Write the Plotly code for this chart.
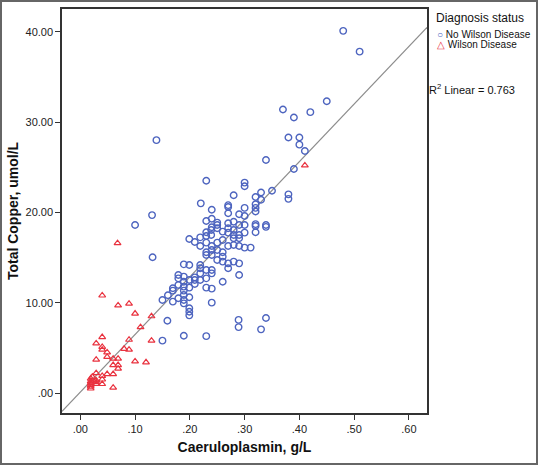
import plotly.graph_objects as go

# ---- data ----
no_wilson_x = [
    0.480, 0.510, 0.450, 0.420, 0.370, 0.390, 0.380, 0.400, 0.400, 0.410,
    0.139, 0.339, 0.390, 0.230, 0.300, 0.300, 0.350, 0.330, 0.380, 0.380,
    0.280, 0.320, 0.330, 0.220, 0.320, 0.270, 0.270, 0.300, 0.320, 0.240,
    0.320, 0.270, 0.290, 0.300, 0.240, 0.131, 0.100, 0.320, 0.320, 0.320,
    0.339, 0.339, 0.311, 0.300,
    0.230, 0.250, 0.250, 0.270, 0.280, 0.290, 0.300, 0.250, 0.270, 0.240,
    0.260, 0.270, 0.280, 0.280, 0.290, 0.280, 0.300, 0.290, 0.199, 0.209,
    0.219, 0.230, 0.239, 0.230, 0.239, 0.219, 0.230, 0.240, 0.250, 0.260,
    0.270, 0.280, 0.290, 0.230, 0.230, 0.240, 0.240, 0.250, 0.250, 0.260,
    0.260, 0.270, 0.270, 0.280, 0.290, 0.260, 0.132, 0.189, 0.199, 0.219,
    0.219, 0.230, 0.240, 0.240, 0.219, 0.179, 0.179, 0.189, 0.209, 0.209,
    0.199, 0.219, 0.230, 0.209, 0.189, 0.260, 0.290, 0.169, 0.169, 0.179,
    0.189, 0.189, 0.189, 0.199, 0.230, 0.240, 0.150, 0.160, 0.169, 0.179,
    0.189, 0.189, 0.199, 0.240, 0.199,
    0.199, 0.199, 0.159, 0.289, 0.339, 0.330, 0.289, 0.230, 0.189, 0.150,
]
no_wilson_y = [
    40.1, 37.8, 32.3, 31.1, 31.4, 30.5, 28.3, 28.3, 27.5, 26.8,
    28.0, 25.8, 24.8, 23.5, 23.3, 22.9, 22.4, 22.2, 22.0, 21.5,
    21.9, 21.7, 21.4, 21.0, 20.9, 20.8, 20.6, 20.5, 20.5, 20.3,
    20.1, 19.9, 19.8, 19.6, 19.3, 19.7, 18.6, 18.7, 18.5, 17.8,
    18.6, 18.4, 16.1, 16.1,
    19.05, 18.87, 18.6, 18.8, 18.97, 18.6, 18.6, 18.24, 18.24, 18.35,
    17.87, 17.76, 18.05, 17.5, 17.5, 17.13, 17.76, 17.13, 17.06, 16.72,
    17.24, 17.39, 17.5, 17.8, 18.05, 16.28, 16.65, 16.28, 16.65, 16.94,
    16.28, 16.39, 16.28, 15.58, 15.29, 15.84, 15.29, 15.84, 14.73, 15.58,
    15.1, 14.36, 13.81, 14.55, 14.36, 14.55, 15.03, 14.25, 14.18, 14.18,
    13.81, 13.62, 13.62, 13.25, 13.25, 13.07, 12.7, 12.89, 12.81, 12.52,
    12.52, 12.52, 12.7, 12.07, 12.33, 12.33, 13.07, 11.6, 11.34, 11.97,
    11.78, 11.34, 10.86, 11.67, 11.67, 11.56, 10.3, 10.82, 10.12, 10.49,
    10.3, 9.93, 10.6, 10.01, 9.38,
    9.0, 8.6, 8.0, 8.1, 8.3, 7.05, 7.3, 6.3, 6.35, 5.8,
]

wilson_x = [
    0.040, 0.068, 0.069, 0.089, 0.100, 0.130, 0.110, 0.089, 0.040, 0.029,
    0.040, 0.040, 0.049, 0.049, 0.080, 0.089, 0.029, 0.060, 0.069, 0.060,
    0.069, 0.069, 0.100, 0.120, 0.130, 0.029, 0.049, 0.060, 0.040, 0.040,
    0.029, 0.029, 0.019, 0.019, 0.019, 0.019, 0.019, 0.040, 0.060, 0.022,
    0.410, 0.019, 0.029,
]
wilson_y = [
    10.8, 16.6, 9.7, 9.9, 8.8, 8.5, 7.3, 5.9, 6.2, 5.5,
    5.1, 4.8, 4.5, 4.0, 4.9, 4.8, 3.7, 3.8, 3.8, 3.1,
    3.1, 2.7, 3.5, 3.4, 5.8, 2.2, 2.1, 2.1, 1.9, 1.5,
    1.4, 1.0, 1.6, 1.3, 0.9, 0.7, 0.5, 1.0, 0.6, 1.8,
    25.2, 1.1, 1.2,
]

# linear fit
fit_intercept = 0.1
fit_slope = 63.8
r2_label = "R<sup>2</sup> Linear = 0.763"

x_tick_vals = [0.0, 0.1, 0.2, 0.3, 0.4, 0.5, 0.6]
x_tick_text = [".00", ".10", ".20", ".30", ".40", ".50", ".60"]
y_tick_vals = [0, 10, 20, 30, 40]
y_tick_text = [".00", "10.00", "20.00", "30.00", "40.00"]

x_range = [-0.0334, 0.633]
y_range = [-2.21, 42.52]

blue = "#4d64bf"
red = "#e9323f"
font_family = "Liberation Sans, Arial, sans-serif"

fig = go.Figure()

fit_x = list(x_range)
fit_y = [fit_intercept + fit_slope * v for v in fit_x]
fig.add_trace(go.Scatter(
    x=fit_x, y=fit_y, mode="lines",
    line=dict(color="#8c8c8c", width=1.2),
    hoverinfo="skip", showlegend=False,
))

fig.add_trace(go.Scatter(
    x=no_wilson_x, y=no_wilson_y, mode="markers", name="No Wilson Disease",
    marker=dict(symbol="circle-open", size=6.5, color=blue, line=dict(width=1.4, color=blue)),
    showlegend=False,
))
fig.add_trace(go.Scatter(
    x=wilson_x, y=wilson_y, mode="markers", name="Wilson Disease",
    marker=dict(symbol="triangle-up-open", size=6, color=red, line=dict(width=1.2, color=red)),
    showlegend=False,
))

ml, mr, mt, mb = 62, 111, 9, 52
W, H = 538, 465
pw, ph = W - ml - mr, H - mt - mb


def px_x(p):
    return (p - ml) / pw


def px_y(p):
    return (H - mb - p) / ph


fig.update_layout(
    width=W, height=H,
    margin=dict(l=ml, r=mr, t=mt, b=mb, autoexpand=False),
    paper_bgcolor="white", plot_bgcolor="white",
    font=dict(family=font_family, color="#222222"),
    showlegend=False,
    xaxis=dict(
        range=x_range, tickvals=x_tick_vals, ticktext=x_tick_text,
        automargin=False,
        showgrid=False, zeroline=False, showline=True, mirror=True,
        linecolor="#333333", linewidth=1.5,
        ticks="outside", ticklen=5, tickwidth=1, tickcolor="#333333",
        tickfont=dict(size=11, family=font_family, color="#222222"),
        title=dict(text="<b>Caeruloplasmin, g/L</b>", font=dict(size=14, family=font_family, color="#111111"), standoff=8),
    ),
    yaxis=dict(
        range=y_range, tickvals=y_tick_vals, ticktext=y_tick_text,
        automargin=False,
        showgrid=False, zeroline=False, showline=True, mirror=True,
        linecolor="#333333", linewidth=1.5,
        ticks="outside", ticklen=5, tickwidth=1, tickcolor="#333333",
        tickfont=dict(size=11, family=font_family, color="#222222"),
        title=dict(text="<b>Total Copper, umol/L</b>", font=dict(size=14, family=font_family, color="#111111"), standoff=4),
    ),
    shapes=[dict(
        type="rect", xref="paper", yref="paper",
        x0=px_x(1), x1=px_x(537), y0=px_y(464), y1=px_y(1),
        line=dict(color="#666666", width=2), fillcolor="rgba(0,0,0,0)", layer="above",
    )],
    annotations=[
        dict(text="Diagnosis status", xref="paper", yref="paper", x=px_x(434), y=px_y(18),
             xanchor="left", yanchor="middle", showarrow=False,
             font=dict(size=12, family=font_family, color="#111111")),
        dict(text=f'<span style="color:{blue}">○</span> No Wilson Disease', xref="paper", yref="paper",
             x=px_x(435), y=px_y(34), xanchor="left", yanchor="middle", showarrow=False,
             font=dict(size=10, family=font_family, color="#111111")),
        dict(text=f'<span style="color:{red}">△</span> Wilson Disease', xref="paper", yref="paper",
             x=px_x(435), y=px_y(45), xanchor="left", yanchor="middle", showarrow=False,
             font=dict(size=10, family=font_family, color="#111111")),
        dict(text=r2_label, xref="paper", yref="paper", x=px_x(427), y=px_y(89),
             xanchor="left", yanchor="middle", showarrow=False,
             font=dict(size=11, family=font_family, color="#111111")),
    ],
)

fig.write_html(
    "out.html",
    config={"displayModeBar": False},
    post_script="document.body.style.margin='0';document.body.style.padding='0';document.body.style.overflow='hidden';",
)
